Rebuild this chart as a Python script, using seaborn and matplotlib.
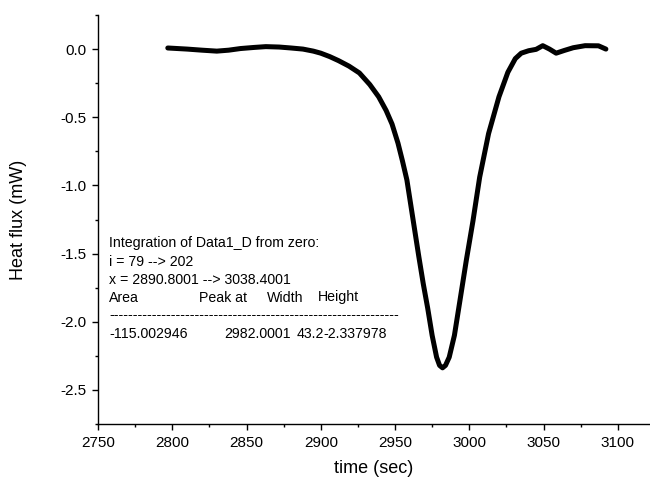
import matplotlib
matplotlib.use("Agg")
import matplotlib.pyplot as plt
from matplotlib.ticker import MultipleLocator
import seaborn as sns
import pandas as pd

# data
time_sec = [2797, 2810, 2820, 2830, 2838, 2846, 2855, 2863, 2872, 2880, 2888, 2895,
            2900, 2906, 2912, 2919, 2926, 2933, 2939, 2944, 2948, 2952, 2955, 2958,
            2962, 2966, 2969, 2972, 2975, 2978, 2980, 2982, 2984, 2986.5, 2990, 2993.5,
            2998, 3002.5, 3007, 3013, 3020, 3026, 3031, 3035, 3040, 3045, 3049.5, 3054,
            3058.5, 3064, 3070, 3078, 3087, 3092]
heat_flux = [0.008, 0.0, -0.008, -0.015, -0.008, 0.004, 0.012, 0.018, 0.015, 0.008, 0.0, -0.015,
             -0.03, -0.055, -0.085, -0.125, -0.175, -0.26, -0.35, -0.45, -0.55, -0.69, -0.82, -0.96,
             -1.24, -1.52, -1.72, -1.90, -2.10, -2.26, -2.32, -2.338, -2.32, -2.26, -2.10, -1.86,
             -1.55, -1.26, -0.94, -0.62, -0.35, -0.17, -0.07, -0.03, -0.012, -0.002, 0.025, 0.0,
             -0.03, -0.01, 0.01, 0.025, 0.024, 0.0]

x_ticks = [2750, 2800, 2850, 2900, 2950, 3000, 3050, 3100]
y_ticks = [0.0, -0.5, -1.0, -1.5, -2.0, -2.5]

annotation_lines = ["Integration of Data1_D from zero:",
                    "i = 79 --> 202",
                    "x = 2890.8001 --> 3038.4001"]
header_cols = ["Area", "Peak at", "Width", "Height"]
value_cols = ["-115.002946", "2982.0001", "43.2", "-2.337978"]

sns.set_theme(style="white")
plt.rcParams['font.family'] = ['Liberation Sans', 'DejaVu Sans']

W, H = 650, 487
fig = plt.figure(figsize=(6.5, 4.87), dpi=100)
ax = fig.add_axes([98 / W, 1 - 424 / H, (W - 98) / W, (424 - 15) / H])

df = pd.DataFrame({"time": time_sec, "flux": heat_flux})
sns.lineplot(data=df, x="time", y="flux", ax=ax, color="black", linewidth=3.6,
             sort=False, estimator=None)
ax.lines[0].set_solid_joinstyle("round")
ax.lines[0].set_solid_capstyle("round")

ax.set_xlim(2750, 3121.7)
ax.set_ylim(-2.75, 0.25)
ax.set_xticks(x_ticks)
ax.set_yticks(y_ticks)
ax.set_yticklabels([f"{v:.1f}" for v in y_ticks])
ax.xaxis.set_minor_locator(MultipleLocator(25))
ax.yaxis.set_minor_locator(MultipleLocator(0.25))

for s in ["top", "right"]:
    ax.spines[s].set_visible(False)
for s in ["left", "bottom"]:
    ax.spines[s].set_color("black")
    ax.spines[s].set_linewidth(1.0)

ax.tick_params(which="major", direction="out", length=4.5, width=1.0, color="black",
               labelsize=11, labelcolor="black", bottom=True, left=True, pad=4)
ax.tick_params(which="minor", direction="out", length=2.5, width=1.0, color="black",
               bottom=True, left=True)

ax.set_xlabel("time (sec)", fontsize=13, color="black", labelpad=7)
ax.set_ylabel("Heat flux (mW)", fontsize=13, color="black")
ax.yaxis.set_label_coords(-0.128, 0.5)

def ptext(x, y, s):
    fig.text(x / W, 1 - y / H, s, fontsize=10.2, color="black", ha="left", va="baseline")

ptext(109, 247.5, annotation_lines[0])
ptext(109, 265.5, annotation_lines[1])
ptext(109, 283.5, annotation_lines[2])
for xp, s in zip([109, 199, 266.5, 318], header_cols):
    ptext(xp, 301.5, s)
ptext(109, 319, "-" * 61)
for xp, s in zip([109, 224, 296.5, 323], value_cols):
    ptext(xp, 337.5, s)

fig.savefig("out.png", dpi=100)
